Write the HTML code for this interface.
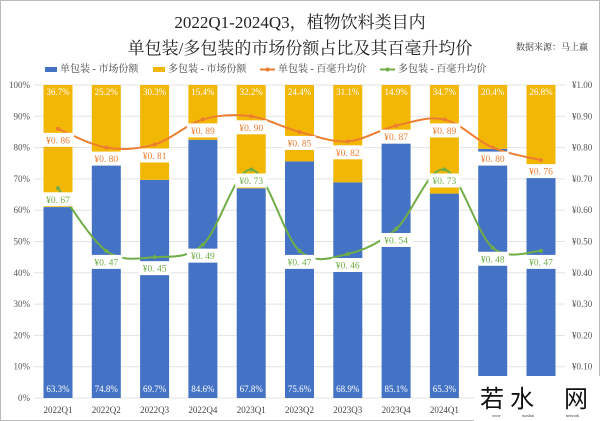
<!DOCTYPE html><html><head><meta charset="utf-8"><style>body{margin:0;background:#fff}svg{display:block}text{font-family:"Liberation Serif","Noto Serif CJK SC",serif}</style></head><body>
<svg width="600" height="421" xmlns="http://www.w3.org/2000/svg">
<rect x="0.5" y="0.5" width="599" height="420" fill="#fff" stroke="#bbb"/>
<text x="300" y="28" font-size="17" text-anchor="middle" fill="#222">2022Q1-2024Q3，植物饮料类目内</text>
<text x="300" y="54" font-size="17" text-anchor="middle" fill="#222">单包装/多包装的市场份额占比及其百毫升均价</text>
<text x="588" y="50" font-size="9" text-anchor="end" fill="#333">数据来源：马上赢</text>
<g font-size="10" fill="#444">
<rect x="45" y="67" width="12" height="5" fill="#4472C4"/><text x="60" y="72">单包装 - 市场份额</text>
<rect x="153" y="67" width="12" height="5" fill="#F2B705"/><text x="168" y="72">多包装 - 市场份额</text>
<line x1="260" y1="69.5" x2="275" y2="69.5" stroke="#ED7D31" stroke-width="2"/><circle cx="267.5" cy="69.5" r="2" fill="#ED7D31"/><text x="278" y="72">单包装 - 百毫升均价</text>
<line x1="380" y1="69.5" x2="395" y2="69.5" stroke="#70AD47" stroke-width="2"/><circle cx="387.5" cy="69.5" r="2" fill="#70AD47"/><text x="398" y="72">多包装 - 百毫升均价</text>
</g>
<g id="grid" stroke="#e3e3e3" stroke-width="1"></g>
<g id="main"></g>
<rect x="474" y="376" width="126" height="45" fill="#fff"/>
<g font-size="24" fill="#111">
<text x="480" y="407" style="font-family:'Noto Sans CJK SC',sans-serif">若</text>
<text x="510" y="407" style="font-family:'Noto Sans CJK SC',sans-serif">水</text>
<text x="564" y="407" style="font-family:'Noto Sans CJK SC',sans-serif">网</text>
</g>
<g font-size="4" fill="#333"><text x="492" y="417">www</text><text x="522" y="417">ruoshui</text><text x="566" y="417">network</text></g>
</svg>
<script>
const ns="http://www.w3.org/2000/svg",m=document.getElementById('main'),g=document.getElementById('grid');
function el(t,a,p,txt){const e=document.createElementNS(ns,t);for(const k in a)e.setAttribute(k,a[k]);if(txt!=null)e.textContent=txt;(p||m).appendChild(e);return e}
const y0=398,H=313,Y=v=>y0-v*H;
for(let i=0;i<=10;i++){const y=Y(i/10);el('line',{x1:34,x2:565,y1:y,y2:y},g);
el('text',{x:30,y:y+3,'font-size':9,'text-anchor':'end',fill:'#555'},null,(i*10)+'%');
if(i>0)el('text',{x:572,y:y+3,'font-size':9,fill:'#555'},null,'¥'+(i/10).toFixed(2));}
const s=[63.3,74.8,69.7,84.6,67.8,75.6,68.9,85.1,65.3,79.6,73.2],
b=[61,74.8,69.7,82.5,67,75.6,68.9,81.5,65.3,79.6,73.2],
o=[.86,.80,.81,.89,.90,.85,.82,.87,.89,.80,.76],gr=[.67,.47,.45,.49,.73,.47,.46,.54,.73,.48,.47],
c=['2022Q1','2022Q2','2022Q3','2022Q4','2023Q1','2023Q2','2023Q3','2023Q4','2024Q1','2024Q2','2024Q3'];
const X=i=>58+i*48.3;
s.forEach((v,i)=>{const x=X(i)-14.5,bv=b[i];
el('rect',{x,y:Y(bv/100),width:29,height:Y(0)-Y(bv/100),fill:'#4472C4'});
el('rect',{x,y:Y(1),width:29,height:Y(bv/100)-Y(1),fill:'#F2B705'});
el('text',{x:X(i),y:95,'font-size':9,'text-anchor':'middle',fill:'#fff'},null,(100-v).toFixed(1)+'%');
el('text',{x:X(i),y:392,'font-size':9,'text-anchor':'middle',fill:'#fff'},null,v.toFixed(1)+'%');
el('text',{x:X(i),y:413,'font-size':9,'text-anchor':'middle',fill:'#444'},null,c[i]);});
function path(d){const p=d.map((v,i)=>[X(i),Y(v)]);let s='M'+p[0];for(let i=0;i<p.length-1;i++){const a=p[i-1]||p[i],b=p[i],c2=p[i+1],d2=p[i+2]||c2;
s+=`C${b[0]+(c2[0]-a[0])/6},${b[1]+(c2[1]-a[1])/6} ${c2[0]-(d2[0]-b[0])/6},${c2[1]-(d2[1]-b[1])/6} ${c2[0]},${c2[1]}`}return s}
[[o,'#ED7D31'],[gr,'#70AD47']].forEach(([d,col])=>{el('path',{d:path(d),fill:'none',stroke:col,'stroke-width':2});
d.forEach((v,i)=>{el('circle',{cx:X(i),cy:Y(v),r:2,fill:col});
el('rect',{x:X(i)-16,y:Y(v)+4,width:32,height:14,fill:'#fff'});
el('text',{x:X(i),y:Y(v)+14.5,'font-size':9.5,'text-anchor':'middle',fill:col},null,'¥'+v.toFixed(2).replace('.','. '));});});
</script>
</body></html>
